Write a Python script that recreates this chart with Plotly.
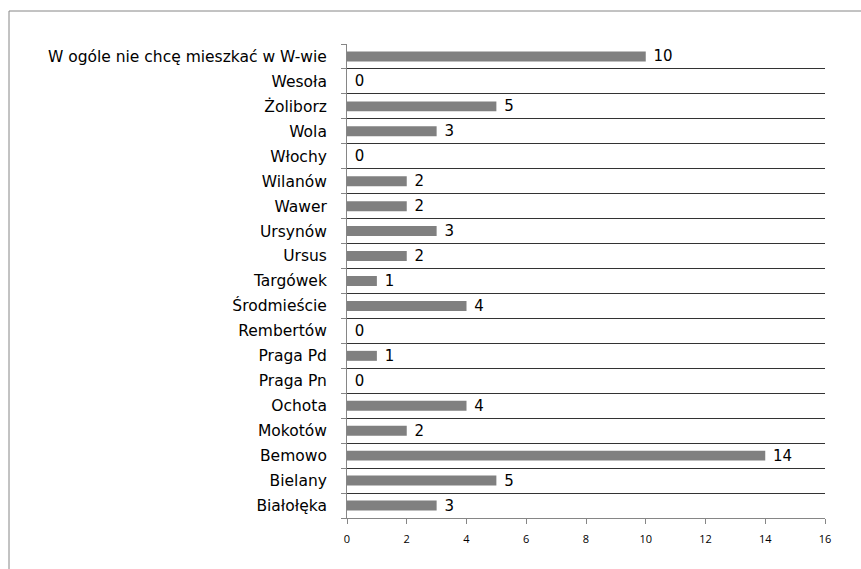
import plotly.graph_objects as go

# Districts, listed bottom to top
districts = [
    "Białołęka", "Bielany", "Bemowo", "Mokotów", "Ochota", "Praga Pn",
    "Praga Pd", "Rembertów", "Środmieście", "Targówek", "Ursus", "Ursynów",
    "Wawer", "Wilanów", "Włochy", "Wola", "Żoliborz", "Wesoła",
    "W ogóle nie chcę mieszkać w W-wie",
]
counts = [3, 5, 14, 2, 4, 0, 1, 0, 4, 1, 2, 3, 2, 2, 0, 3, 5, 0, 10]
x_ticks = [0, 2, 4, 6, 8, 10, 12, 14, 16]

W, H = 861, 569
ML, MR, MT, MB = 347, 36, 44, 51

positions = list(range(len(districts)))

fig = go.Figure(
    go.Bar(
        x=counts,
        y=positions,
        orientation="h",
        width=0.4,
        marker=dict(color="#808080", line=dict(width=0)),
        texttemplate="\u00a0%{x}",
        textposition="outside",
        constraintext="none",
        textfont=dict(family="DejaVu Sans", size=15, color="#000000"),
        cliponaxis=False,
        hoverinfo="skip",
    )
)

fig.update_layout(
    width=W,
    height=H,
    margin=dict(l=ML, r=MR, t=MT, b=MB),
    paper_bgcolor="white",
    plot_bgcolor="white",
    showlegend=False,
    font=dict(family="Open Sans", color="#000000"),
    xaxis=dict(
        range=[0, 16],
        tickvals=x_ticks,
        ticktext=[str(v) for v in x_ticks],
        tickfont=dict(size=11),
        showgrid=False,
        zeroline=False,
        showline=True,
        linecolor="#868686",
        linewidth=1,
        ticks="outside",
        ticklen=5,
        tickcolor="#868686",
        ticklabelstandoff=6,
    ),
    yaxis=dict(
        range=[-0.5, len(districts) - 0.5],
        tickvals=positions,
        ticktext=districts,
        tickfont=dict(family="DejaVu Sans", size=15.5),
        ticks="",
        showgrid=False,
        zeroline=False,
        showline=True,
        linecolor="#868686",
        linewidth=1,
        ticklabelstandoff=16,
        minor=dict(
            tick0=0.5,
            dtick=1,
            ticks="outside",
            ticklen=5,
            tickcolor="#868686",
            showgrid=True,
            gridcolor="#333333",
            gridwidth=1,
        ),
    ),
    shapes=[
        # outer chart frame, running past the right and bottom edges
        dict(
            type="rect",
            xref="paper",
            yref="paper",
            x0=(9 - ML) / (W - ML - MR),
            x1=(W + 20 - ML) / (W - ML - MR),
            y0=-(MB + 20) / (H - MT - MB),
            y1=1 + (MT - 11) / (H - MT - MB),
            line=dict(color="#868686", width=1),
            fillcolor="rgba(0,0,0,0)",
            layer="below",
        )
    ],
)

fig.write_html("out.html")
